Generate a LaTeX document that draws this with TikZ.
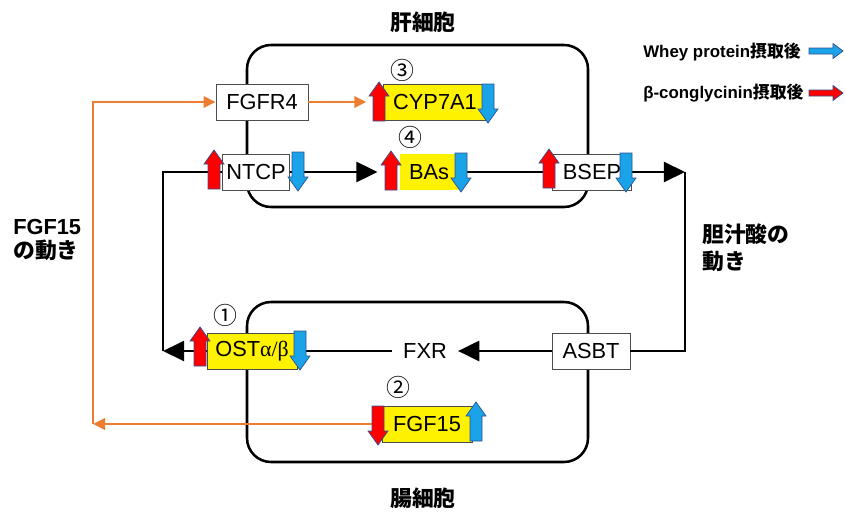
\documentclass[tikz,border=0pt]{standalone}
\usepackage{fontspec}
\setmainfont{Liberation Sans}
\newfontfamily\cjk{Noto Sans CJK JP}
\newfontfamily\grk{Liberation Serif}
\usetikzlibrary{arrows.meta}
\definecolor{ored}{HTML}{ED7D31}
\definecolor{sblue}{HTML}{1AA3E8}
\definecolor{aline}{HTML}{2F528F}
\newcommand{\jp}[1]{{\cjk #1}}

\begin{document}
\begin{tikzpicture}[x=0.025cm, y=-0.025cm,
  every node/.style = {font=\fontsize{15.5}{18}\selectfont, inner sep=0pt},
  box/.style = {draw=black!70, line width=0.6pt, fill=white, minimum height=0.9cm},
  ybox/.style = {box, fill=yellow},
  cell/.style = {line width=1.8pt, rounded corners=0.6cm},
  flow/.style = {line width=2pt, -{Triangle[length=0.53cm,width=0.5cm]}},
  feed/.style = {draw=ored, line width=2pt, -{Triangle[length=0.3cm,width=0.28cm]}},
  num/.style = {font=\cjk\fontsize{17}{18}\selectfont},
  title/.style = {font=\cjk\bfseries\fontsize{15.5}{18}\selectfont},
  arrup/.pic = {\filldraw[fill=#1, draw=aline, line width=0.5pt]
    (-6,19) -- (-6,-6) -- (-10,-6) -- (0,-20) -- (10,-6) -- (6,-6) -- (6,19) -- cycle;},
  arrdn/.pic = {\filldraw[fill=#1, draw=aline, line width=0.5pt]
    (-6,-19) -- (-6,6) -- (-10,6) -- (0,20) -- (10,6) -- (6,6) -- (6,-19) -- cycle;},
  arrrt/.pic = {\filldraw[fill=#1, draw=aline, line width=0.5pt]
    (-17,-3) -- (7,-3) -- (7,-7.5) -- (17,0) -- (7,7.5) -- (7,3) -- (-17,3) -- cycle;}]
  \useasboundingbox (0,0) rectangle (845,513);

  \draw[cell] (247,45) rectangle (588,207);
  \draw[cell] (247,302) rectangle (588,462);

  \node[title] (liver) at (423,22) {肝細胞};
  \node[title] (gut) at (423,498) {腸細胞};

  \node[box, minimum width=2.3cm] (fgfr4) at (262,102) {FGFR4};
  \node[ybox, minimum width=2.575cm] (cyp) at (435,102) {CYP7A1};
  \node[box, minimum width=1.675cm] (ntcp) at (256,172) {NTCP};
  \node[ybox, draw=none, minimum width=1.45cm] (bas) at (429,172) {BAs};
  \node[box, minimum width=1.975cm] (bsep) at (592,172) {BSEP};
  \node[box, minimum width=1.95cm] (asbt) at (591,351) {ASBT};
  \node[inner sep=0.275cm] (fxr) at (425,351) {FXR};
  \node[ybox, minimum width=2.25cm] (ost) at (252,351) {OST{\grk α/β}};
  \node[ybox, minimum width=2.25cm] (fgf) at (427,424) {FGF15};

  \node[num] (n1) at (225,315) {①};
  \node[num] (n2) at (398,387) {②};
  \node[num] (n3) at (402,70) {③};
  \node[num] (n4) at (410,137) {④};

  \coordinate (tl) at (163,172);
  \coordinate (tr) at (685,172);
  \coordinate (br) at (685,351);
  \coordinate (bl) at (163,351);
  \coordinate (ol) at (93,424);

  \draw[flow, shorten >=0.55cm] (ntcp.east) -- (bas.west);
  \draw[line width=2pt] (bas.east) -- (bsep.west);
  \draw[flow] (bsep.east) -- (tr);
  \draw[line width=2pt] (tr) -- (br) -- (asbt.east);
  \draw[flow] (asbt.west) -- (fxr.east);
  \draw[line width=2pt] (fxr.west) -- (ost.east);
  \draw[flow] (ost.west) -- (bl);
  \draw[line width=2pt] (bl) -- (tl) -- (ntcp.west);

  \draw[feed, shorten >=0.42cm] (fgfr4.east) -- (cyp.west);
  \draw[feed] (fgf.west) -- (ol);
  \draw[feed] (ol) |- (fgfr4.west);

  \pic at (379,102) {arrup=red};
  \pic at (488,103) {arrdn=sblue};
  \pic at (214,170) {arrup=red};
  \pic at (298,171) {arrdn=sblue};
  \pic at (391,171) {arrup=red};
  \pic at (461,172) {arrdn=sblue};
  \pic at (549,169) {arrup=red};
  \pic at (626,172) {arrdn=sblue};
  \pic at (200,347) {arrup=red};
  \pic at (300,350) {arrdn=sblue};
  \pic at (378,425) {arrdn=red};
  \pic at (476,422) {arrup=sblue};

  \node[anchor=west, align=left, font=\bfseries\fontsize{15.5}{17.7}\selectfont]
    (fgfmove) at (13,240) {FGF15\\\jp{の動き}};
  \node[anchor=west, align=left, font=\cjk\bfseries\fontsize{15.5}{19}\selectfont]
    (bamove) at (702,248) {胆汁酸の\\動き};

  \node[anchor=west, font=\bfseries\fontsize{12}{14}\selectfont]
    (whey) at (643,52) {Whey protein\jp{摂取後}};
  \node[anchor=west, font=\bfseries\fontsize{12}{14}\selectfont]
    (conglu) at (643,93) {β-conglycinin\jp{摂取後}};
  \pic at (826,51) {arrrt=sblue};
  \pic at (826,93) {arrrt=red};
\end{tikzpicture}
\end{document}
